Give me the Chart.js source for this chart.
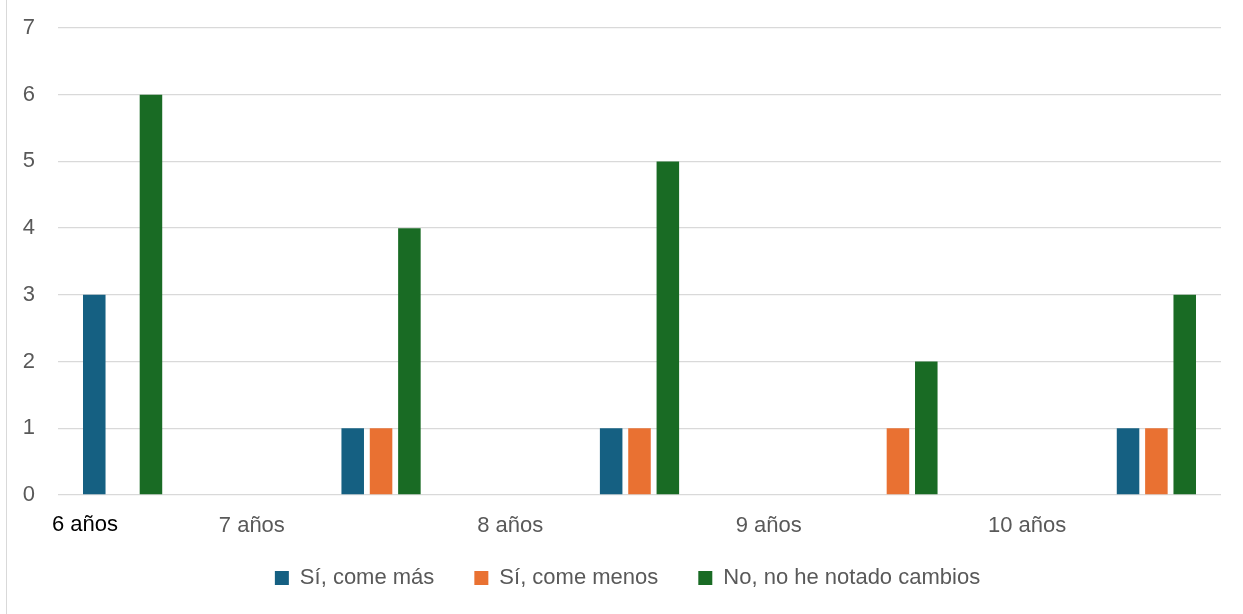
<!DOCTYPE html>
<html>
<head>
<meta charset="utf-8">
<script src="https://cdn.jsdelivr.net/npm/chart.js@4"></script>
<style>
  body { margin: 0; background: #fff; }
  #wrap { position: relative; width: 1243px; height: 614px; }
  #wrap::before { content: ''; position: absolute; left: 6px; top: 0; bottom: 0; width: 1px; background: #d9d9d9; }
</style>
</head>
<body>
<div id="wrap"><canvas id="chart" width="1243" height="614"></canvas></div>
<script>
// Axis slots: bars sit in the even slots, age labels in the odd ones
const slotLabels = ['', '7 años', '', '8 años', '', '9 años', '', '10 años', ''];
const firstLabel = '6 años';
const seriesNames = ['Sí, come más', 'Sí, come menos', 'No, no he notado cambios'];
const comeMas = [3, null, 1, null, 1, null, null, null, 1];
const comeMenos = [null, null, 1, null, 1, null, 1, null, 1];
const sinCambios = [6, null, 4, null, 5, null, 2, null, 3];
const colors = ['#156082', '#E97132', '#196B24'];

const FONT = 'Liberation Sans, Arial, sans-serif';
const GREY = '#595959';
const SIZE = 22;

// Draws the leading "6 años" label at the start of the x axis
const firstLabelPlugin = {
    id: 'firstLabel',
    afterDraw(chart) {
        const x = chart.scales.x;
        const ctx = chart.ctx;
        ctx.save();
        ctx.font = SIZE + 'px ' + FONT;
        ctx.fillStyle = '#000';
        ctx.textAlign = 'left';
        ctx.textBaseline = 'middle';
        ctx.fillText(firstLabel, x.left - 6, x.top + 30);
        ctx.restore();
    }
};

new Chart(document.getElementById('chart'), {
    type: 'bar',
    data: {
        labels: slotLabels,
        datasets: [comeMas, comeMenos, sinCambios].map((d, i) => ({
            label: seriesNames[i],
            data: d,
            backgroundColor: colors[i],
            categoryPercentage: 0.658,
            barPercentage: 0.795
        }))
    },
    options: {
        responsive: false,
        animation: false,
        devicePixelRatio: 1,
        layout: { padding: { top: 28, right: 22, bottom: 15, left: 34 } },
        scales: {
            x: {
                grid: { display: false },
                border: { display: false },
                ticks: {
                    color: GREY,
                    font: { family: FONT, size: SIZE },
                    autoSkip: false,
                    maxRotation: 0,
                    padding: 10
                },
                afterFit(scale) {
                    scale.height = 32;
                    // keep tick labels from being clipped to the short axis box
                    scale._computeLabelArea = () => undefined;
                }
            },
            y: {
                min: 0,
                max: 7,
                grid: { color: '#d9d9d9', lineWidth: 1.3, drawTicks: false },
                border: { display: false },
                ticks: {
                    stepSize: 1,
                    color: GREY,
                    font: { family: FONT, size: SIZE },
                    padding: 23
                },
                afterFit(scale) {
                    scale.width = 24;
                    scale.paddingTop = 0;
                    scale.paddingBottom = 0;
                    scale._computeLabelArea = () => undefined;
                }
            }
        },
        plugins: {
            legend: {
                position: 'bottom',
                labels: {
                    color: GREY,
                    font: { family: FONT, size: SIZE },
                    boxWidth: 14,
                    boxHeight: 14,
                    padding: 40
                }
            },
            tooltip: { enabled: false }
        }
    },
    plugins: [firstLabelPlugin]
});
</script>
</body>
</html>
